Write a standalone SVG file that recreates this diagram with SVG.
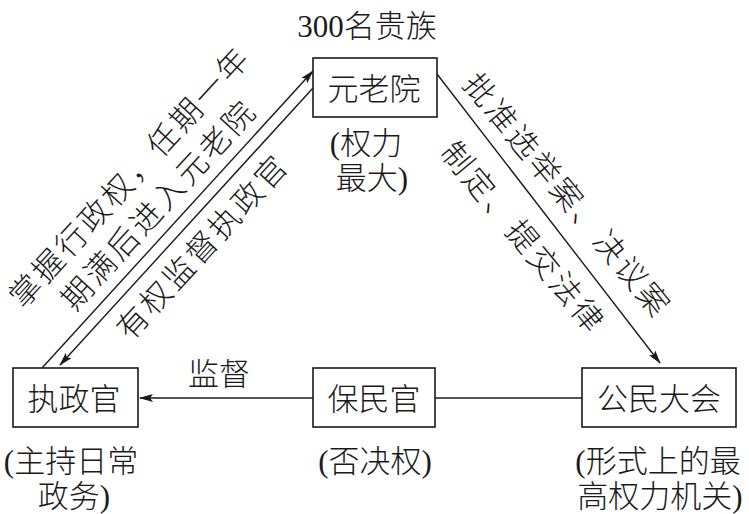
<svg xmlns="http://www.w3.org/2000/svg" width="749" height="514" viewBox="0 0 749 514">
<defs>
<marker id="arr" viewBox="0 0 14 8" refX="13" refY="4" markerWidth="14" markerHeight="8" markerUnits="userSpaceOnUse" orient="auto">
<path d="M0,0 L14,4 L0,8 L3,4 z" fill="#1a1a1a"/>
</marker>
<style>
text{font-family:"Liberation Serif","Noto Sans CJK SC",serif;font-size:31px;font-weight:300;fill:#1a1a1a;text-anchor:middle}
.diag{letter-spacing:3px}
.box{fill:#fff;stroke:#1a1a1a;stroke-width:1.6}
.ln{stroke:#1a1a1a;stroke-width:1.4;fill:none}
</style>
</defs>
<rect width="749" height="514" fill="#fff"/>
<g id="connectors">
<line class="ln" x1="42" y1="368" x2="313" y2="71" marker-end="url(#arr)"/>
<line class="ln" x1="313" y1="88" x2="60" y2="365" marker-end="url(#arr)"/>
<line class="ln" x1="437" y1="74" x2="660" y2="363" marker-end="url(#arr)"/>
<line class="ln" x1="583" y1="398" x2="435" y2="398"/>
<line class="ln" x1="313" y1="398" x2="140" y2="398" marker-end="url(#arr)"/>
<g id="labels">
<text class="diag" transform="translate(129,176) rotate(-47.5)" x="0" y="12">掌握行政权，任期一年</text>
<text class="diag" transform="translate(158,204) rotate(-47.5)" x="0" y="12">期满后进入元老院</text>
<text class="diag" transform="translate(202,246) rotate(-47.5)" x="0" y="12">有权监督执政官</text>
<text class="diag" transform="translate(568,195) rotate(50.4)" x="0" y="12">批准选举案、决议案</text>
<text class="diag" transform="translate(524,237) rotate(50.4)" x="0" y="12">制定、提交法律</text>
<text x="219" y="385">监督</text>
</g>
</g>
<g id="senate">
<text x="367" y="37">300名贵族</text>
<rect class="box" x="313" y="58" width="124" height="59"/>
<text x="374" y="100">元老院</text>
<text x="366" y="154">(权力</text>
<text x="372" y="189">最大)</text>
</g>
<g id="consul">
<rect class="box" x="13" y="368" width="125" height="59"/>
<text x="74" y="410">执政官</text>
<text x="71" y="472">(主持日常</text>
<text x="74" y="507">政务)</text>
</g>
<g id="tribune">
<rect class="box" x="313" y="368" width="122" height="59"/>
<text x="374" y="410">保民官</text>
<text x="375" y="472">(否决权)</text>
</g>
<g id="assembly">
<rect class="box" x="582" y="368" width="154" height="59"/>
<text x="659" y="410">公民大会</text>
<text x="658" y="472">(形式上的最</text>
<text x="660" y="507">高权力机关)</text>
</g>
</svg>
